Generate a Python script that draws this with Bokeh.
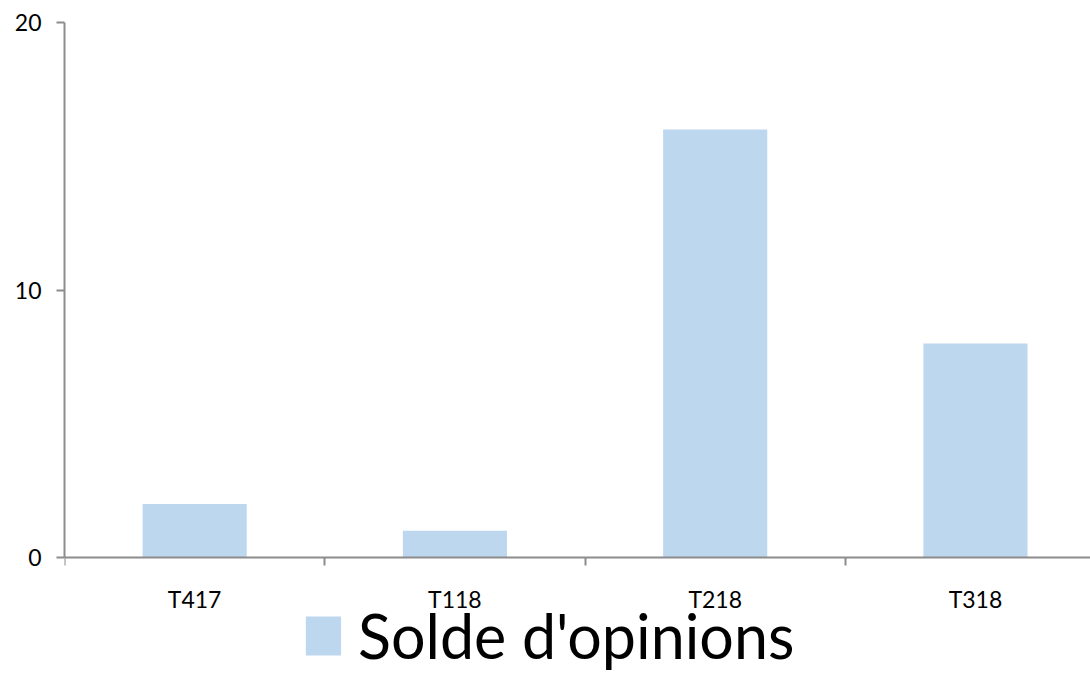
from bokeh.plotting import figure
from bokeh.models import Range1d, FixedTicker, LinearAxis, Legend, LegendItem, ColumnDataSource
from bokeh.embed import file_html
from bokeh.resources import INLINE

categories = ["T417", "T118", "T218", "T318"]
values = [2, 1, 16, 8]
series_name = "Solde d'opinions"
y_ticks = [0, 10, 20]

FONT = "Lato"
AXIS_COLOR = "#8c8c8c"
BAR_COLOR = "#BDD7EE"

xs = [i + 0.5 for i in range(len(categories))]
src = ColumnDataSource(dict(x=xs, top=values, cat=categories))

# frame spans from the top border to the bottom of the page; value 0 sits 121 px above bottom
px_per_unit = 535 / 20.0
y_bottom = -121 / px_per_unit

p = figure(width=1090, height=678, output_backend="svg", toolbar_location=None,
           x_range=Range1d(0, 3.942), y_range=Range1d(y_bottom, 20),
           x_axis_type=None, y_axis_type=None,
           min_border_left=64, min_border_right=0, min_border_top=22, min_border_bottom=0)
p.outline_line_color = None
p.xgrid.visible = False
p.ygrid.visible = False
p.background_fill_color = "white"

r = p.vbar(x="x", top="top", width=0.4, bottom=0, source=src, fill_color=BAR_COLOR, line_color=None)

# y axis
yaxis = LinearAxis(ticker=FixedTicker(ticks=y_ticks, minor_ticks=[]), bounds=(0, 20))
yaxis.axis_line_color = AXIS_COLOR
yaxis.axis_line_width = 2
yaxis.major_tick_line_color = AXIS_COLOR
yaxis.major_tick_line_width = 2
yaxis.major_tick_out = 8
yaxis.major_tick_in = 0
yaxis.minor_tick_line_color = None
yaxis.major_label_standoff = 15
yaxis.major_label_text_font = FONT
yaxis.major_label_text_font_size = "23px"
yaxis.major_label_text_color = "black"
p.add_layout(yaxis, "left")

# x axis at value 0: labels at centres, tick marks at category boundaries (minor ticks)
xaxis = LinearAxis(ticker=FixedTicker(ticks=xs, minor_ticks=list(range(len(categories) + 1))),
                   fixed_location=0)
xaxis.major_label_overrides = {x: c for x, c in zip(xs, categories)}
xaxis.axis_line_color = AXIS_COLOR
xaxis.axis_line_width = 2
xaxis.major_tick_line_color = None
xaxis.major_tick_out = 0
xaxis.major_tick_in = 0
xaxis.minor_tick_line_color = AXIS_COLOR
xaxis.minor_tick_line_width = 2
xaxis.minor_tick_out = 8
xaxis.minor_tick_in = 0
xaxis.major_label_standoff = 19
xaxis.major_label_text_font = FONT
xaxis.major_label_text_font_size = "23px"
xaxis.major_label_text_color = "black"
p.add_layout(xaxis, "below")

legend = Legend(items=[LegendItem(label=series_name, renderers=[r])],
                location=(237, 6), orientation="horizontal",
                glyph_width=44, glyph_height=49, label_standoff=13,
                label_text_font=FONT, label_text_font_size="61px", label_text_color="black",
                padding=0, margin=0, spacing=0,
                border_line_alpha=0, background_fill_alpha=0)
p.add_layout(legend, "center")

open("out.html", "w").write(file_html(p, INLINE))
